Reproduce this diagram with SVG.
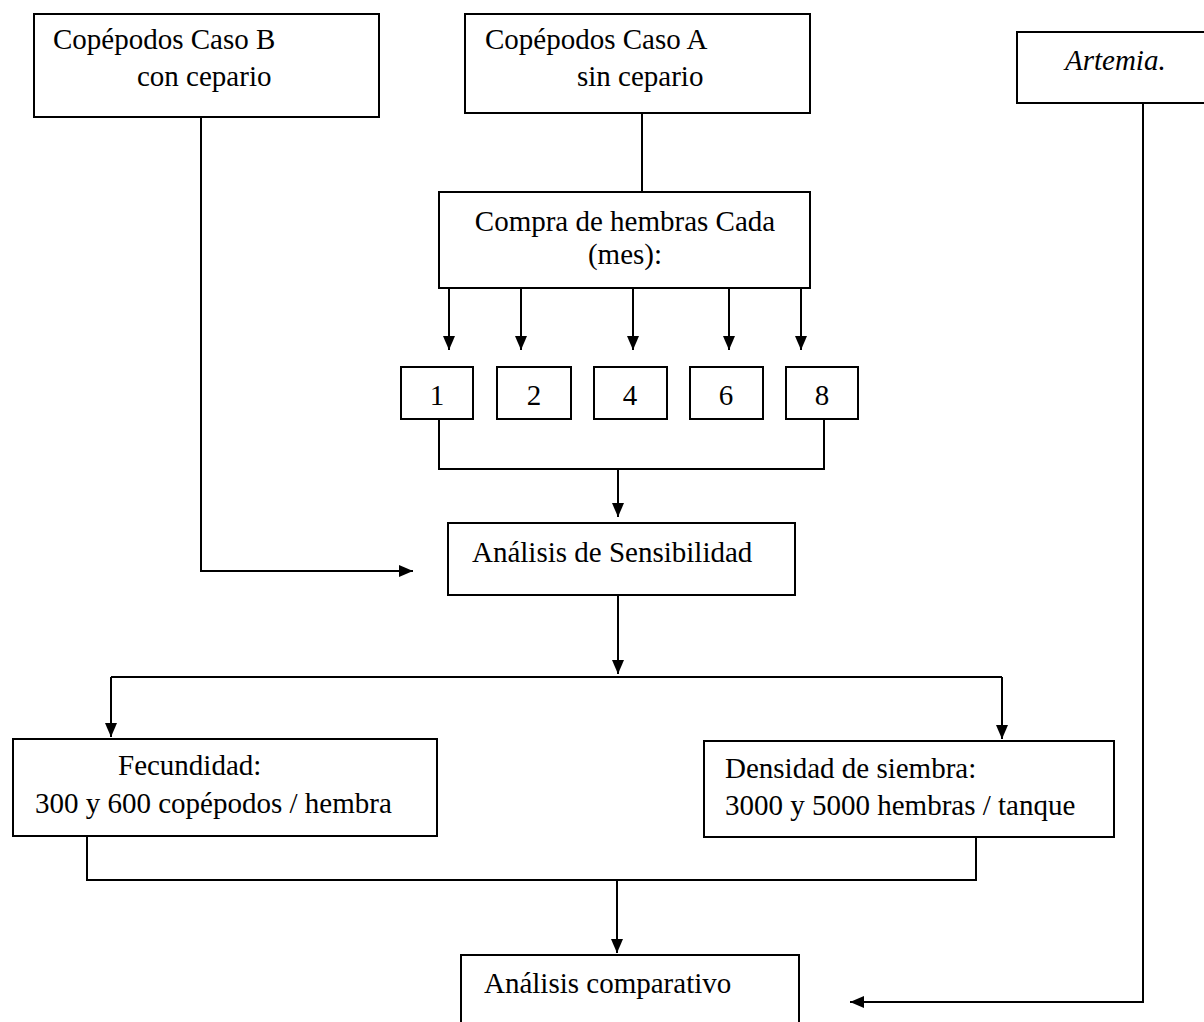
<svg xmlns="http://www.w3.org/2000/svg" width="1204" height="1022" viewBox="0 0 1204 1022">
<style>
.box{fill:#fff;stroke:#000;stroke-width:2}
.t{font-family:"Liberation Serif","Times New Roman",serif;font-size:29px;fill:#000}
.c{text-anchor:middle}
.it{font-style:italic}
.ln{fill:none;stroke:#000;stroke-width:2}
</style>
<defs>
<marker id="ah" markerUnits="userSpaceOnUse" markerWidth="16" markerHeight="14" refX="14" refY="6" orient="auto">
<path d="M0,0 L14,6 L0,12 z" fill="#000"/>
</marker>
</defs>
<rect width="1204" height="1022" fill="#fff"/>
<g id="connectors">
<path class="ln" d="M201,117 V571 H413" marker-end="url(#ah)"/>
<path class="ln" d="M642,113 V192"/>
<path class="ln" d="M449,288 V350" marker-end="url(#ah)"/>
<path class="ln" d="M521,288 V350" marker-end="url(#ah)"/>
<path class="ln" d="M633,288 V350" marker-end="url(#ah)"/>
<path class="ln" d="M729,288 V350" marker-end="url(#ah)"/>
<path class="ln" d="M801,288 V350" marker-end="url(#ah)"/>
<path class="ln" d="M439,419 V469 H824 V419"/>
<path class="ln" d="M618,469 V517" marker-end="url(#ah)"/>
<path class="ln" d="M618,595 V674" marker-end="url(#ah)"/>
<path class="ln" d="M111,677 H1002"/>
<path class="ln" d="M111,677 V737" marker-end="url(#ah)"/>
<path class="ln" d="M1002,677 V739" marker-end="url(#ah)"/>
<path class="ln" d="M87,837 V880 H976 V837"/>
<path class="ln" d="M617,880 V953" marker-end="url(#ah)"/>
<path class="ln" d="M1143,103 V1002 H850" marker-end="url(#ah)"/>
</g>
<g id="caseB">
<rect class="box" x="34" y="14" width="345" height="103"/>
<text class="t" x="53" y="49">Copépodos Caso B</text>
<text class="t" x="137" y="86">con cepario</text>
</g>
<g id="caseA">
<rect class="box" x="465" y="14" width="345" height="99"/>
<text class="t" x="485" y="49">Copépodos Caso A</text>
<text class="t" x="577" y="86">sin cepario</text>
</g>
<g id="artemia">
<rect class="box" x="1017" y="32" width="220" height="71"/>
<text class="t it" x="1065" y="70">Artemia.</text>
</g>
<g id="compra">
<rect class="box" x="439" y="192" width="371" height="96"/>
<text class="t c" x="625" y="231">Compra de hembras Cada</text>
<text class="t c" x="625" y="264">(mes):</text>
</g>
<g id="m1"><rect class="box" x="401" y="367" width="72" height="52"/><text class="t c" x="437" y="405">1</text></g>
<g id="m2"><rect class="box" x="497" y="367" width="74" height="52"/><text class="t c" x="534" y="405">2</text></g>
<g id="m4"><rect class="box" x="594" y="367" width="73" height="52"/><text class="t c" x="630" y="405">4</text></g>
<g id="m6"><rect class="box" x="690" y="367" width="73" height="52"/><text class="t c" x="726" y="405">6</text></g>
<g id="m8"><rect class="box" x="786" y="367" width="72" height="52"/><text class="t c" x="822" y="405">8</text></g>
<g id="sens">
<rect class="box" x="448" y="523" width="347" height="72"/>
<text class="t" x="472" y="562">Análisis de Sensibilidad</text>
</g>
<g id="fec">
<rect class="box" x="13" y="739" width="424" height="97"/>
<text class="t" x="118" y="775">Fecundidad:</text>
<text class="t" x="35" y="813">300 y 600 copépodos / hembra</text>
</g>
<g id="dens">
<rect class="box" x="704" y="741" width="410" height="96"/>
<text class="t" x="725" y="778">Densidad de siembra:</text>
<text class="t" x="725" y="815">3000 y 5000 hembras / tanque</text>
</g>
<g id="comp">
<rect class="box" x="461" y="955" width="338" height="80"/>
<text class="t" x="484" y="993">Análisis comparativo</text>
</g>
</svg>
